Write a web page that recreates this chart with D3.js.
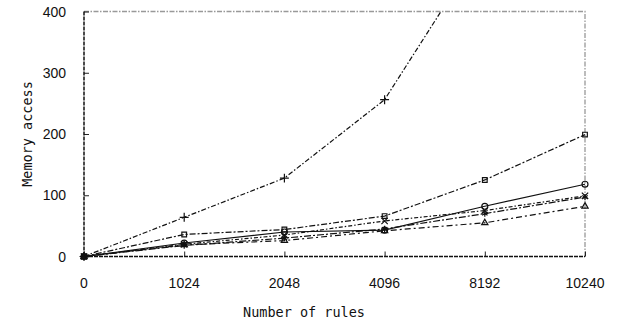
<!DOCTYPE html>
<html>
<head>
<meta charset="utf-8">
<script src="https://cdn.jsdelivr.net/npm/d3@7"></script>
<style>
  body { margin: 0; background: #fff; }
  svg { display: block; }
  .tick-label { font-family: "Liberation Sans", Arial, sans-serif; font-size: 14px; fill: #111; }
  .axis-title { font-family: "DejaVu Sans Mono", monospace; font-size: 13.5px; fill: #111; }
</style>
</head>
<body>
<svg id="chart"></svg>
<script>
const categories = ['0', '1024', '2048', '4096', '8192', '10240'];
const yTicks = [0, 100, 200, 300, 400];

// values, one array per series
const seriesPlus = [0, 64, 128, 256, 512, 1024];
const seriesSquare = [0, 36, 44, 66, 125, 199];
const seriesCircle = [0, 22, 40, 43, 82, 118];
const seriesTimes = [0, 20, 35, 58, 75, 99];
const seriesStar = [0, 18, 30, 45, 70, 97];
const seriesTriangle = [0, 19, 26, 42, 55, 82];

const series = [
  {name: 'plus', values: seriesPlus, symbol: d3.symbolPlus, dash: '5,2,1.5,2'},
  {name: 'square', values: seriesSquare, symbol: d3.symbolSquare2, dash: '6,2,2,2'},
  {name: 'circle', values: seriesCircle, symbol: d3.symbolCircle, dash: null},
  {name: 'times', values: seriesTimes, symbol: d3.symbolTimes, dash: '4,2,1.5,2'},
  {name: 'star', values: seriesStar, symbol: d3.symbolAsterisk, dash: '7,2,2,2'},
  {name: 'triangle', values: seriesTriangle, symbol: d3.symbolTriangle2, dash: '6,3,2,3'}
];

const width = 640, height = 327;
const plotLeft = 84, plotRight = 585, plotTop = 11.5, plotBottom = 256.5;

const svg = d3.select('#chart')
  .attr('width', width)
  .attr('height', height);

const x = d3.scalePoint()
  .domain(categories)
  .range([plotLeft, plotRight]);

const y = d3.scaleLinear()
  .domain([0, 400])
  .range([plotBottom, plotTop]);

svg.append('clipPath')
  .attr('id', 'plot-clip')
  .append('rect')
  .attr('x', plotLeft - 8)
  .attr('y', plotTop)
  .attr('width', plotRight - plotLeft + 16)
  .attr('height', plotBottom - plotTop + 10);

// frame: top and right in grey dash-dot
svg.append('path')
  .attr('d', `M${plotLeft},${plotTop}H${plotRight}V${plotBottom}`)
  .attr('fill', 'none')
  .attr('stroke', '#999')
  .attr('stroke-width', 1.3)
  .attr('stroke-dasharray', '5,1.5,1.5,1.5');

// y axis, ticks pointing inward
const yAxis = svg.append('g')
  .attr('transform', `translate(${plotLeft},0)`)
  .call(d3.axisRight(y).tickValues(yTicks).tickSize(5).tickFormat(''));
yAxis.select('.domain').remove();
yAxis.selectAll('.tick line').attr('stroke', '#222');
yAxis.append('line')
  .attr('y1', plotTop).attr('y2', plotBottom)
  .attr('stroke', '#111')
  .attr('stroke-width', 1.5)
  .attr('stroke-dasharray', '4,1');

svg.append('g').selectAll('text')
  .data(yTicks)
  .join('text')
  .attr('class', 'tick-label')
  .attr('x', 66)
  .attr('y', d => y(d) + 5)
  .attr('text-anchor', 'end')
  .text(d => d);

// x axis, ticks pointing up
const xAxis = svg.append('g')
  .attr('transform', `translate(0,${plotBottom})`)
  .call(d3.axisTop(x).tickSize(5).tickFormat(''));
xAxis.select('.domain').remove();
xAxis.selectAll('.tick line').attr('stroke', '#222');
xAxis.append('line')
  .attr('x1', plotLeft).attr('x2', plotRight)
  .attr('stroke', '#111')
  .attr('stroke-width', 1.5)
  .attr('stroke-dasharray', '4,1');

svg.append('g').selectAll('text')
  .data(categories)
  .join('text')
  .attr('class', 'tick-label')
  .attr('x', d => x(d))
  .attr('y', 288)
  .attr('text-anchor', 'middle')
  .text(d => d);

svg.append('text')
  .attr('class', 'axis-title')
  .attr('x', 304)
  .attr('y', 317)
  .attr('text-anchor', 'middle')
  .text('Number of rules');

svg.append('text')
  .attr('class', 'axis-title')
  .attr('transform', `translate(32,${(plotTop + plotBottom) / 2}) rotate(-90)`)
  .attr('text-anchor', 'middle')
  .text('Memory access');

// lines and markers
const line = d3.line()
  .x((d, i) => x(categories[i]))
  .y(d => y(d));

const plot = svg.append('g').attr('clip-path', 'url(#plot-clip)');

series.forEach(s => {
  plot.append('path')
    .datum(s.values)
    .attr('d', line)
    .attr('fill', 'none')
    .attr('stroke', '#111')
    .attr('stroke-width', 1.2)
    .attr('stroke-dasharray', s.dash);

  plot.append('g').selectAll('path')
    .data(s.values)
    .join('path')
    .attr('transform', (d, i) => `translate(${x(categories[i])},${y(d)})`)
    .attr('d', d3.symbol().type(s.symbol).size(28))
    .attr('fill', 'none')
    .attr('stroke', '#111')
    .attr('stroke-width', 1.2);
});
</script>
</body>
</html>
